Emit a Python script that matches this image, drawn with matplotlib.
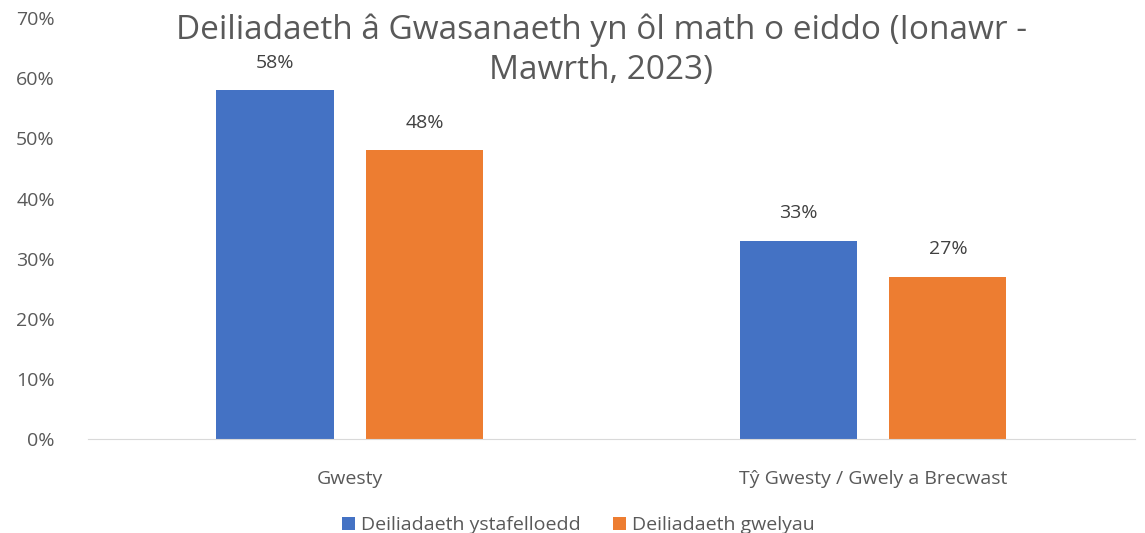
import numpy as np
import matplotlib.pyplot as plt

plt.rcParams['font.family'] = ['Open Sans', 'DejaVu Sans']

categories = ['Gwesty', 'Tŷ Gwesty / Gwely a Brecwast']
series_names = ['Deiliadaeth ystafelloedd', 'Deiliadaeth gwelyau']
room_occ = [58, 33]
bed_occ = [48, 27]
colors = ['#4472C4', '#ED7D31']

fig = plt.figure(figsize=(11.45, 5.33), dpi=100)
ax = fig.add_axes([0.077, 0.176, 0.914, 0.79])

x = np.arange(len(categories))
w = 0.224
off = 0.143
for vals, name, c, d in zip([room_occ, bed_occ], series_names, colors, [-off, off]):
    bars = ax.bar(x + d, vals, width=w, color=c, label=name)
    for b, v in zip(bars, vals):
        ax.text(b.get_x() + b.get_width() / 2, v + 4.6, f'{v}%', ha='center', va='center',
                fontsize=14, color='#404040')

ax.set_xlim(-0.5, 1.5)
ax.set_ylim(0, 70)
ax.set_yticks(range(0, 71, 10))
ax.set_yticklabels([f'{t}%' for t in range(0, 71, 10)])
ax.set_xticks(x)
ax.set_xticklabels(categories)
ax.tick_params(axis='both', length=0, labelsize=14, colors='#595959')
ax.tick_params(axis='y', pad=24)
ax.tick_params(axis='x', pad=22)
for s in ['top', 'right', 'left']:
    ax.spines[s].set_visible(False)
ax.spines['bottom'].set_color('#D9D9D9')

fig.text(0.525, 0.975, 'Deiliadaeth â Gwasanaeth yn ôl math o eiddo (Ionawr -\nMawrth, 2023)',
         ha='center', va='top', fontsize=24, color='#595959', linespacing=1.3)

fig.legend(loc='lower center', bbox_to_anchor=(0.505, -0.035), ncol=2, frameon=False,
           fontsize=14, handlelength=0.65, handleheight=0.65, columnspacing=1.7,
           handletextpad=0.3, labelcolor='#595959')

fig.savefig('out.png', dpi=100)
